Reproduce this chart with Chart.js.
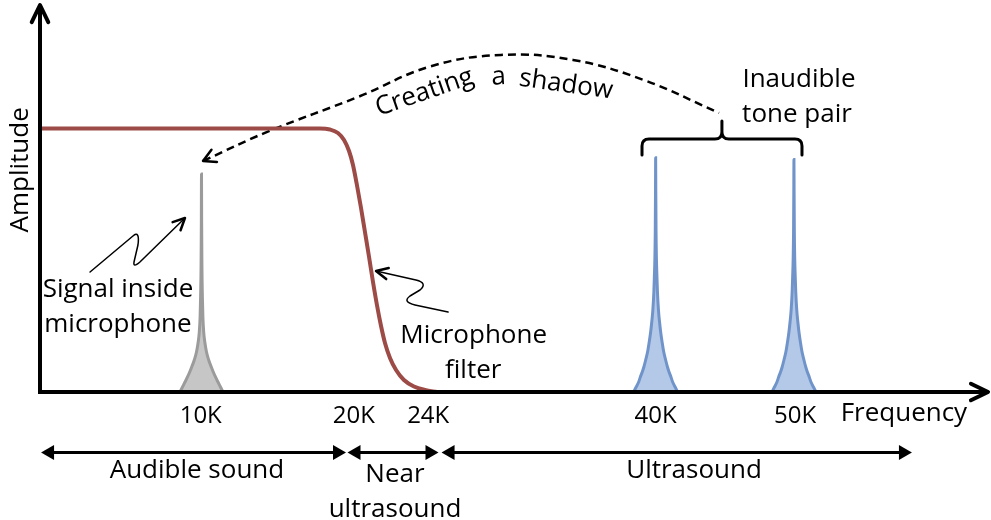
<!DOCTYPE html>
<html><head><meta charset="utf-8">
<script src="https://cdn.jsdelivr.net/npm/chart.js@4"></script>
<style>html,body{margin:0;padding:0;background:#fff;}canvas{display:block}</style>
</head><body>
<canvas id="c" width="991" height="520"></canvas>
<script>
// ---- tick labels (schematic frequency positions) ----
const tickValues = [10, 20.1, 25, 40, 49.2];
const tickLabels = ['10K', '20K', '24K', '40K', '50K'];

// ---- microphone filter curve ----
const filterX = [-0.6, 17.86, 18.52, 19.05, 19.45, 19.78, 20.04, 20.30, 20.57, 20.83, 21.10, 21.36, 21.62, 21.89, 22.15, 22.48, 22.88, 23.40, 24.06, 24.79, 25.58];
const filterY = [68.09, 68.09, 67.83, 66.93, 65.12, 62.27, 58.66, 53.49, 47.55, 41.34, 34.88, 28.42, 22.48, 17.05, 12.66, 8.79, 5.68, 3.10, 1.42, 0.52, 0];

// ---- signal inside microphone (10K) ----
const signalX = [8.632, 8.797, 8.962, 9.127, 9.272, 9.404, 9.575, 9.720, 9.832, 9.905, 9.958, 9.991, 10.024, 10.040, 10.05, 10.060, 10.076, 10.109, 10.142, 10.195, 10.268, 10.380, 10.525, 10.696, 10.828, 10.973, 11.138, 11.303, 11.468];
const signalY = [0, 1.29, 2.58, 3.88, 5.17, 6.46, 8.27, 10.34, 12.92, 15.50, 19.38, 24.55, 33.59, 43.93, 56.3, 43.93, 33.59, 24.55, 19.38, 15.50, 12.92, 10.34, 8.27, 6.46, 5.17, 3.88, 2.58, 1.29, 0];

// ---- inaudible tone pair (40K, 50K) ----
const tone40X = [38.549, 38.714, 38.879, 38.991, 39.116, 39.222, 39.341, 39.466, 39.565, 39.670, 39.743, 39.815, 39.881, 39.914, 39.947, 39.974, 39.990, 40.0, 40.010, 40.026, 40.053, 40.086, 40.119, 40.185, 40.257, 40.330, 40.435, 40.534, 40.659, 40.778, 40.884, 41.009, 41.121, 41.286, 41.451];
const tone40Y = [0, 1.29, 2.58, 3.88, 5.17, 6.46, 8.27, 10.34, 12.66, 15.50, 18.09, 21.19, 25.84, 29.72, 34.11, 41.34, 51.68, 60.5, 51.68, 41.34, 34.11, 29.72, 25.84, 21.19, 18.09, 15.50, 12.66, 10.34, 8.27, 6.46, 5.17, 3.88, 2.58, 1.29, 0];
const tone50X = [47.669, 47.834, 47.999, 48.111, 48.236, 48.342, 48.461, 48.586, 48.685, 48.790, 48.863, 48.935, 49.001, 49.034, 49.067, 49.094, 49.110, 49.12, 49.130, 49.146, 49.173, 49.206, 49.239, 49.305, 49.377, 49.450, 49.555, 49.654, 49.779, 49.898, 50.004, 50.129, 50.241, 50.406, 50.571];
const tone50Y = [0, 1.29, 2.58, 3.88, 5.17, 6.46, 8.27, 10.34, 12.66, 15.50, 18.09, 21.19, 25.84, 29.72, 34.11, 41.34, 51.68, 60.1, 51.68, 41.34, 34.11, 29.72, 25.84, 21.19, 18.09, 15.50, 12.66, 10.34, 8.27, 6.46, 5.17, 3.88, 2.58, 1.29, 0];

// ---- "Creating a shadow" dashed arc ----
const arcX = [10.15, 14.5, 20.41, 25.12, 29.80, 34.55, 39.23, 44.18];
const arcY = [59.7, 67.4, 76.3, 84.1, 87.1, 85.8, 80.6, 72.1];

// ---- annotation geometry (data units) ----
const braceX = [39.10, 44.37, 49.65];
const braceY = [61.24, 65.37, 70.03];
const squiggle1 = [['M',2.70,31.0],['L',5.53,40.3],['Q',5.99,41.86,5.86,37.98],['L',5.60,33.59],['Q',5.53,32.04,5.99,33.59],['L',8.96,44.96]];
const squiggle2 = [['M',21.56,31.27],['L',24.19,28.94],['Q',24.99,28.17,24.46,26.36],['L',23.80,24.81],['Q',23.27,23.26,24.13,22.48],['L',26.31,20.67]];
const rangeY = -15.63;
const ranges = [[-0.53, 19.58], [19.68, 25.68], [25.88, 56.90]];
const axisXRange = [-0.73, 61.92];
const axisYRange = [0, 100];
const annotTexts = [
  ['Inaudible', 49.45, 78.8, 0],
  ['tone pair', 49.32, 69.8, 0],
  ['Signal inside', 4.54, 24.6, 0],
  ['microphone', 4.54, 15.6, 0],
  ['Microphone', 28.0, 12.7, 0],
  ['filter', 27.97, 3.54, 0],
  ['Creating', 24.92, 75.6, -19],
  ['a', 29.67, 79.5, -3],
  ['shadow', 34.02, 77.5, 8],
  ['Audible sound', 9.75, -22.3, 0],
  ['Near', 22.81, -23.2, 0],
  ['ultrasound', 22.81, -32.3, 0],
  ['Ultrasound', 42.53, -22.3, 0],
  ['Frequency', 56.37, -7.6, 0],
  ['Amplitude', -1.39, 57.4, -90]
];

const pts = (xs, ys) => xs.map((x, i) => ({x, y: ys[i]}));
const FONT = '"Open Sans", "DejaVu Sans", sans-serif';

const annotPlugin = {
  id: 'annot',
  afterDatasetsDraw(chart) {
    const ctx = chart.ctx, xs = chart.scales.x, ys = chart.scales.y;
    const X = v => xs.getPixelForValue(v), Y = v => ys.getPixelForValue(v);
    ctx.save();
    ctx.strokeStyle = '#000'; ctx.fillStyle = '#000';
    ctx.lineJoin = 'round'; ctx.lineCap = 'round';

    function openHead(tx, ty, ang, len, spread, lw) {
      ctx.lineWidth = lw;
      ctx.beginPath();
      ctx.moveTo(tx + len * Math.cos(ang + spread), ty + len * Math.sin(ang + spread));
      ctx.lineTo(tx, ty);
      ctx.lineTo(tx + len * Math.cos(ang - spread), ty + len * Math.sin(ang - spread));
      ctx.stroke();
    }
    function solidHead(tx, ty, ang, len, half) {
      const bx = tx + len * Math.cos(ang), by = ty + len * Math.sin(ang);
      const nx = -Math.sin(ang), ny = Math.cos(ang);
      ctx.beginPath();
      ctx.moveTo(tx, ty);
      ctx.lineTo(bx + nx * half, by + ny * half);
      ctx.lineTo(bx - nx * half, by - ny * half);
      ctx.closePath(); ctx.fill();
    }

    // axes
    const x0 = X(axisXRange[0]), x1 = X(axisXRange[1]);
    const yb = Y(axisYRange[0]), yt = Y(axisYRange[1]);
    const xa = X(-0.6);
    ctx.lineWidth = 4; ctx.lineCap = 'butt';
    ctx.beginPath(); ctx.moveTo(x0, yb); ctx.lineTo(x1 - 1, yb); ctx.stroke();
    ctx.beginPath(); ctx.moveTo(xa, yb + 2); ctx.lineTo(xa, yt + 1); ctx.stroke();
    ctx.lineCap = 'round';
    openHead(x1, yb, Math.PI, 19, 0.45, 4);
    openHead(xa, yt, Math.PI / 2, 19, 0.45, 4);

    // dashed arc arrowhead
    {
      const tx = X(arcX[0]), ty = Y(arcY[0]);
      const px = X(arcX[1]), py = Y(arcY[1]);
      openHead(tx, ty, Math.atan2(py - ty, px - tx), 14, 0.5, 2.5);
    }

    // brace
    {
      const l = X(braceX[0]), m = X(braceX[1]), r = X(braceX[2]);
      const foot = Y(braceY[0]), bar = Y(braceY[1]), tip = Y(braceY[2]);
      const rr = 7;
      ctx.lineWidth = 3;
      ctx.beginPath();
      ctx.moveTo(l, foot);
      ctx.lineTo(l, bar + rr);
      ctx.quadraticCurveTo(l, bar, l + rr, bar);
      ctx.lineTo(m - rr, bar);
      ctx.quadraticCurveTo(m, bar, m, bar - rr);
      ctx.lineTo(m, tip);
      ctx.moveTo(m, bar - rr);
      ctx.quadraticCurveTo(m, bar, m + rr, bar);
      ctx.lineTo(r - rr, bar);
      ctx.quadraticCurveTo(r, bar, r, bar + rr);
      ctx.lineTo(r, foot);
      ctx.stroke();
    }

    // squiggly pointers
    function drawPath(cmds) {
      ctx.lineWidth = 1.5;
      ctx.beginPath();
      cmds.forEach(c => {
        if (c[0] === 'M') ctx.moveTo(X(c[1]), Y(c[2]));
        else if (c[0] === 'L') ctx.lineTo(X(c[1]), Y(c[2]));
        else ctx.quadraticCurveTo(X(c[1]), Y(c[2]), X(c[3]), Y(c[4]));
      });
      ctx.stroke();
    }
    drawPath(squiggle1);
    {
      const e = squiggle1[squiggle1.length - 1], p = squiggle1[squiggle1.length - 2];
      const tx = X(e[1]), ty = Y(e[2]), px = X(p[3]), py = Y(p[4]);
      openHead(tx, ty, Math.atan2(py - ty, px - tx), 13, 0.45, 2.5);
    }
    drawPath(squiggle2);
    {
      const s = squiggle2[0], n = squiggle2[1];
      const tx = X(s[1]), ty = Y(s[2]), px = X(n[1]), py = Y(n[2]);
      openHead(tx, ty, Math.atan2(py - ty, px - tx), 13, 0.45, 2.5);
    }

    // range arrows below the axis
    const ry = Y(rangeY);
    ranges.forEach(([a, b]) => {
      const pa = X(a), pb = X(b);
      ctx.lineWidth = 3; ctx.lineCap = 'butt';
      ctx.beginPath(); ctx.moveTo(pa + 8, ry); ctx.lineTo(pb - 8, ry); ctx.stroke();
      solidHead(pa, ry, 0, 13, 7.5);
      solidHead(pb, ry, Math.PI, 13, 7.5);
    });

    // texts
    ctx.font = '26px ' + FONT;
    ctx.textAlign = 'center'; ctx.textBaseline = 'alphabetic';
    annotTexts.forEach(([t, x, y, rot]) => {
      ctx.save();
      ctx.translate(X(x), Y(y));
      ctx.rotate(rot * Math.PI / 180);
      ctx.fillText(t, 0, 0);
      ctx.restore();
    });
    ctx.restore();
  }
};

new Chart(document.getElementById('c'), {
  type: 'line',
  data: {
    datasets: [
      { data: pts(signalX, signalY), borderColor: '#9B9B9B', backgroundColor: '#C6C6C6', borderWidth: 3, fill: 'origin', pointRadius: 0, cubicInterpolationMode: 'monotone' },
      { data: pts(tone40X, tone40Y), borderColor: '#7094CA', backgroundColor: '#B4C9E8', borderWidth: 3, fill: 'origin', pointRadius: 0, cubicInterpolationMode: 'monotone' },
      { data: pts(tone50X, tone50Y), borderColor: '#7094CA', backgroundColor: '#B4C9E8', borderWidth: 3, fill: 'origin', pointRadius: 0, cubicInterpolationMode: 'monotone' },
      { data: pts(filterX, filterY), borderColor: '#9C4B46', borderWidth: 4, fill: false, pointRadius: 0, cubicInterpolationMode: 'monotone' },
      { data: pts(arcX, arcY), borderColor: '#000', borderWidth: 2.5, borderDash: [8, 5], fill: false, pointRadius: 0, tension: 0.4 }
    ]
  },
  options: {
    responsive: false,
    animation: false,
    events: [],
    devicePixelRatio: 1,
    layout: { padding: { left: 40, right: 26, top: 5, bottom: 0 } },
    plugins: { legend: { display: false }, tooltip: { enabled: false } },
    scales: {
      x: {
        type: 'linear', min: -0.6, max: 60.4,
        grid: { display: false, drawTicks: false },
        border: { display: false },
        afterBuildTicks: axis => { axis.ticks = tickValues.map(v => ({ value: v })); },
        afterFit: s => { s.height = 128; },
        ticks: {
          autoSkip: false, maxRotation: 0, padding: 10, color: '#000',
          font: { family: FONT, size: 24 },
          callback: (v, i) => tickLabels[i]
        }
      },
      y: { type: 'linear', min: 0, max: 100, display: false }
    }
  },
  plugins: [annotPlugin]
});
</script>
</body></html>
